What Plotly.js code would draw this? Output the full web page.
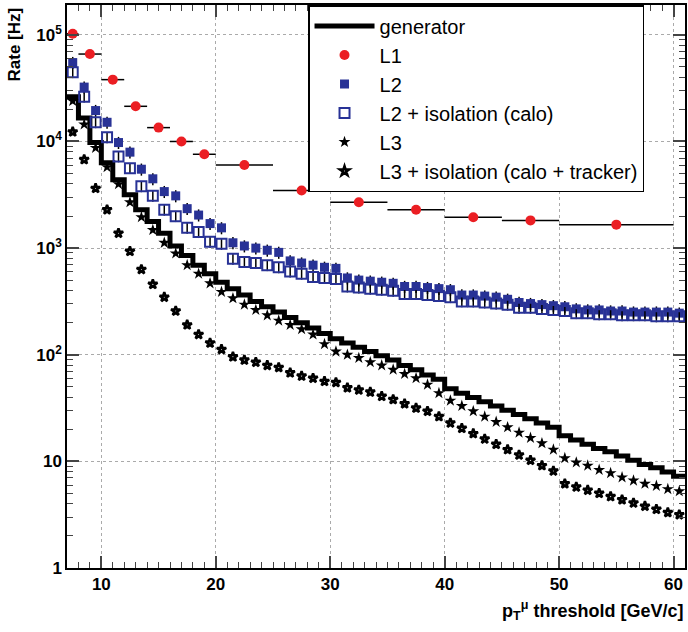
<!DOCTYPE html>
<html>
<head>
<meta charset="utf-8">
<script src="https://cdn.plot.ly/plotly-3.0.1.min.js"></script>
<style>body{margin:0;background:#fff}#plotly-chart{width:688px;height:632px}</style>
</head>
<body>
<div id="plotly-chart"></div>
<script>
// muon pT threshold (GeV/c), 1 GeV steps
const thresholds = [7.5, 8.5, 9.5, 10.5, 11.5, 12.5, 13.5, 14.5, 15.5, 16.5, 17.5, 18.5, 19.5, 20.5,
    21.5, 22.5, 23.5, 24.5, 25.5, 26.5, 27.5, 28.5, 29.5, 30.5, 31.5, 32.5, 33.5, 34.5, 35.5, 36.5,
    37.5, 38.5, 39.5, 40.5, 41.5, 42.5, 43.5, 44.5, 45.5, 46.5, 47.5, 48.5, 49.5, 50.5, 51.5, 52.5,
    53.5, 54.5, 55.5, 56.5, 57.5, 58.5, 59.5, 60.5];
// generator bin edges (step line)
const genEdges = [7, 8, 9, 10, 11, 12, 13, 14, 15, 16, 17, 18, 19, 20, 21, 22, 23, 24, 25, 26, 27, 28,
    29, 30, 31, 32, 33, 34, 35, 36, 37, 38, 39, 40, 41, 42, 43, 44, 45, 46, 47, 48, 49, 50, 51, 52,
    53, 54, 55, 56, 57, 58, 59, 60, 61];

// rates as log10(Hz)
const genLog = [4.42, 4.22, 3.99, 3.80, 3.64, 3.50, 3.36, 3.25, 3.14, 3.02, 2.93, 2.84, 2.76, 2.68,
    2.62, 2.56, 2.50, 2.45, 2.40, 2.35, 2.30, 2.25, 2.20, 2.15, 2.11, 2.07, 2.03, 1.99, 1.95, 1.90,
    1.86, 1.81, 1.77, 1.68, 1.64, 1.60, 1.56, 1.52, 1.48, 1.44, 1.40, 1.36, 1.32, 1.24, 1.20, 1.16,
    1.12, 1.09, 1.05, 1.01, 0.97, 0.94, 0.90, 0.86, 0.86];
const l2Log = [4.74, 4.51, 4.29, 4.18, 3.99, 3.90, 3.74, 3.65, 3.53, 3.49, 3.37, 3.31, 3.23, 3.19,
    3.05, 3.02, 3.00, 2.98, 2.96, 2.88, 2.86, 2.84, 2.82, 2.81, 2.72, 2.70, 2.69, 2.68, 2.67, 2.64,
    2.64, 2.63, 2.62, 2.61, 2.56, 2.56, 2.55, 2.54, 2.52, 2.49, 2.48, 2.47, 2.46, 2.45, 2.43, 2.42,
    2.42, 2.41, 2.41, 2.40, 2.40, 2.40, 2.40, 2.39];
const l2IsoLog = [4.65, 4.42, 4.18, 4.04, 3.86, 3.75, 3.58, 3.49, 3.36, 3.30, 3.19, 3.15, 3.06, 3.04,
    2.90, 2.87, 2.86, 2.84, 2.82, 2.78, 2.76, 2.73, 2.72, 2.71, 2.64, 2.63, 2.62, 2.61, 2.60, 2.57,
    2.57, 2.56, 2.55, 2.54, 2.50, 2.50, 2.49, 2.48, 2.47, 2.44, 2.44, 2.43, 2.42, 2.41, 2.39, 2.39,
    2.38, 2.38, 2.37, 2.37, 2.37, 2.36, 2.36, 2.36];
const l3Log = [4.38, 4.16, 3.94, 3.76, 3.60, 3.43, 3.29, 3.17, 3.05, 2.95, 2.84, 2.76, 2.67, 2.59,
    2.53, 2.47, 2.42, 2.37, 2.32, 2.28, 2.24, 2.19, 2.10, 2.03, 2.00, 1.97, 1.93, 1.90, 1.86, 1.82,
    1.78, 1.72, 1.64, 1.57, 1.52, 1.47, 1.42, 1.37, 1.32, 1.27, 1.22, 1.17, 1.11, 1.03, 0.99, 0.96,
    0.92, 0.89, 0.85, 0.82, 0.79, 0.77, 0.74, 0.72];
const l3IsoLog = [4.09, 3.83, 3.56, 3.36, 3.14, 2.97, 2.80, 2.66, 2.54, 2.41, 2.28, 2.19, 2.11, 2.05,
    1.98, 1.95, 1.93, 1.90, 1.88, 1.83, 1.80, 1.78, 1.75, 1.74, 1.69, 1.67, 1.65, 1.61, 1.58, 1.54,
    1.50, 1.47, 1.42, 1.36, 1.31, 1.26, 1.21, 1.16, 1.11, 1.06, 1.01, 0.96, 0.91, 0.79, 0.76, 0.73,
    0.70, 0.67, 0.64, 0.61, 0.58, 0.55, 0.52, 0.50];

// L1 has wider bins
const l1Centers = [7.5, 9, 11, 13, 15, 17, 19, 22.5, 27.5, 32.5, 37.5, 42.5, 47.5, 55];
const l1HalfWidths = [0.5, 1, 1, 1, 1, 1, 1, 2.5, 2.5, 2.5, 2.5, 2.5, 2.5, 5];
const l1Log = [5.01, 4.82, 4.58, 4.33, 4.13, 4.00, 3.88, 3.78, 3.54, 3.43, 3.36, 3.29, 3.26, 3.22];

const yTickVals = [1, 10, 100, 1000, 10000, 100000];
const yTickText = ['1', '10', '10<sup>2</sup>', '10<sup>3</sup>', '10<sup>4</sup>', '10<sup>5</sup>'];

const toRate = arr => arr.map(v => Math.pow(10, v));
const FONT = 'Liberation Sans, Arial, sans-serif';
const BLUE = 'rgb(40, 50, 150)';

const data = [
    {
        x: genEdges, y: toRate(genLog), type: 'scatter', mode: 'lines', name: 'generator',
        line: {shape: 'hv', color: 'black', width: 5},
    },
    {
        x: l1Centers, y: toRate(l1Log), type: 'scatter', mode: 'markers', name: 'L1',
        marker: {symbol: 'circle', size: 10, color: 'rgb(235, 30, 35)'},
        error_x: {type: 'data', array: l1HalfWidths, color: 'black', thickness: 1.5, width: 0},
    },
    {
        x: thresholds, y: toRate(l2Log), type: 'scatter', mode: 'markers', name: 'L2',
        marker: {symbol: 'square', size: 9, color: BLUE},
        error_y: {type: 'percent', value: 13, color: 'black', thickness: 1.5, width: 0},
    },
    {
        x: thresholds, y: toRate(l2IsoLog), type: 'scatter', mode: 'markers', name: 'L2 + isolation (calo)',
        marker: {symbol: 'square-open', size: 10, color: BLUE, line: {width: 2}},
        error_y: {type: 'percent', value: 12, color: 'black', thickness: 1.5, width: 0},
    },
    {
        x: thresholds, y: toRate(l3Log), type: 'scatter', mode: 'markers', name: 'L3',
        marker: {symbol: 'star', size: 9, color: 'black'},
    },
    {
        x: thresholds, y: toRate(l3IsoLog), type: 'scatter', mode: 'markers', name: 'L3 + isolation (calo + tracker)',
        marker: {symbol: 'star-open', size: 7, color: 'black', line: {width: 2.5}},
    },
];

const layout = {
    width: 688, height: 632,
    paper_bgcolor: 'white', plot_bgcolor: 'white',
    margin: {t: 5, r: 3, b: 64, l: 67},
    font: {family: FONT, color: 'black'},
    showlegend: true,
    legend: {
        x: 0.39, y: 1, xanchor: 'left', yanchor: 'top',
        bordercolor: 'black', borderwidth: 1.5, bgcolor: 'white',
        itemwidth: 60,
        font: {family: FONT, size: 20},
    },
    xaxis: {
        range: [7, 61], dtick: 10, tick0: 0,
        showgrid: true, gridcolor: 'rgb(170,170,170)', griddash: 'dot',
        zeroline: false, showline: true, linecolor: 'black', linewidth: 1.5, mirror: 'ticks',
        ticks: 'inside', ticklen: 12, tickwidth: 1.5,
        minor: {dtick: 1, ticks: 'inside', ticklen: 6, tickwidth: 1},
        tickfont: {family: FONT, size: 17, weight: 'bold'},
    },
    yaxis: {
        type: 'log', range: [0, 5.28],
        tickvals: yTickVals, ticktext: yTickText,
        showgrid: true, gridcolor: 'rgb(170,170,170)', griddash: 'dot',
        zeroline: false, showline: true, linecolor: 'black', linewidth: 1.5, mirror: 'ticks',
        ticks: 'inside', ticklen: 12, tickwidth: 1.5,
        minor: {dtick: 'D1', ticks: 'inside', ticklen: 6, tickwidth: 1, showgrid: false},
        tickfont: {family: FONT, size: 17, weight: 'bold'},
    },
    annotations: [
        {
            text: '<b>p<sub>T</sub><sup>μ</sup> threshold [GeV/c]</b>', xref: 'paper', yref: 'paper',
            x: 1, y: -0.05, xanchor: 'right', yanchor: 'top', showarrow: false,
            font: {family: FONT, size: 18},
        },
        {
            text: '<b>Rate [Hz]</b>', xref: 'paper', yref: 'paper', textangle: -90,
            x: -0.085, y: 1, xanchor: 'center', yanchor: 'top', showarrow: false,
            font: {family: FONT, size: 17},
        },
    ],
};

Plotly.newPlot('plotly-chart', data, layout, {displayModeBar: false, responsive: false});
</script>
</body>
</html>
